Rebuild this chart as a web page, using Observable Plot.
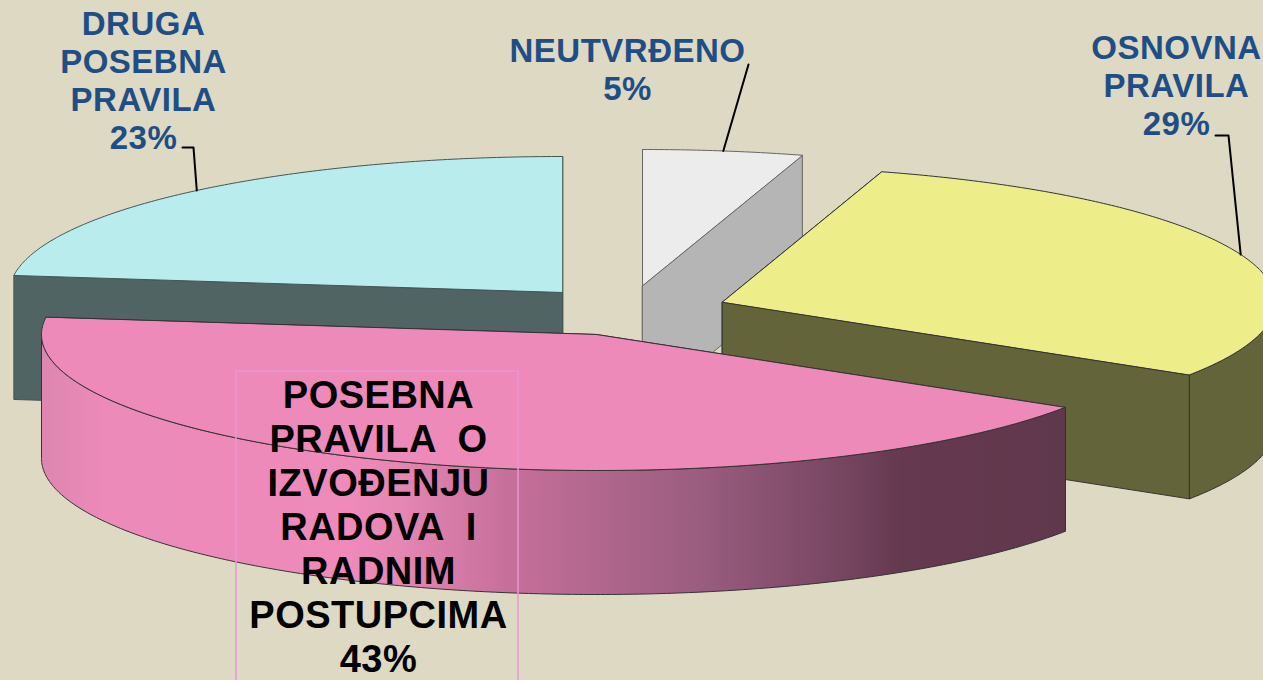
<!DOCTYPE html>
<html>
<head>
<meta charset="utf-8">
<script src="https://cdn.jsdelivr.net/npm/d3@7"></script>
<script src="https://cdn.jsdelivr.net/npm/@observablehq/plot@0.6"></script>
<style>
html,body{margin:0;padding:0;background:#ddd9c3;overflow:hidden}
svg{display:block}
.lbl text{letter-spacing:0.5px;white-space:pre}
</style>
</head>
<body>
<div id="chart"></div>
<script>
// Data (clockwise from 12 o'clock)
const names = ["NEUTVRĐENO", "OSNOVNA\nPRAVILA", "POSEBNA\nPRAVILA  O\nIZVOĐENJU\nRADOVA  I\nRADNIM\nPOSTUPCIMA", "DRUGA\nPOSEBNA\nPRAVILA"];
const shares = [4.65, 29.35, 43, 23];
const topColors = ["#ececec", "#eded8a", "#ee8aba", "#b9eded"];
const sideColors = ["#b5b5b5", "#64643a", "url(#pinkSide)", "#506464"];
const edgeColors = ["#666666", "#333333", "#333333", "#445555"];

// Pie layout in image space
const W = 1263, H = 680;
const radiusX = [555, 553, 555, 553], radiusY = 136, depth = 124;
const apexX = [642, 722, 596, 562];
const apexY = [285, 301.5, 334, 292];

const labelX = [627, 1176, 378, 143];
const labelY = [68, 84, 525, 79];
const labelSize = [33, 33, 38, 33];
const labelLeading = [38 / 33, 38 / 33, 44 / 38, 38 / 33];
const labelColor = ["#1f4e86", "#1f4e86", "#000000", "#1f4e86"];
const leaderFromX = [[748], [1215, 1228], [], [182, 193]];
const leaderFromY = [[64], [135, 135], [], [147, 147]];
const boxX = [236, 518], boxY = [371, 700];

// Derive wedges from shares
let acc = 0;
const slices = shares.map((v, i) => {
  const a0 = acc / 100 * 2 * Math.PI;
  acc += v;
  return {i, a0, a1: acc / 100 * 2 * Math.PI};
});
const pt = (s, a, dz = 0) => ({
  x: apexX[s.i] + radiusX[s.i] * Math.sin(a),
  y: apexY[s.i] - radiusY * Math.cos(a) + dz
});
const arc = (s, from, to, dz = 0) => {
  const n = Math.max(2, Math.ceil((to - from) / 0.01));
  return d3.range(n + 1).map(k => pt(s, from + (to - from) * k / n, dz));
};
const apex = (s, dz = 0) => ({x: apexX[s.i], y: apexY[s.i] + dz});

const drawOrder = [0, 3, 1, 2];
const marks = [];
marks.push(() => {
  const defs = d3.create("svg:defs");
  const g = defs.append("linearGradient").attr("id", "pinkSide").attr("x1", 0).attr("x2", 1).attr("y1", 0).attr("y2", 0);
  [[0, "#dd86af"], [0.06, "#ec8ab9"], [0.3, "#ef8aba"], [0.35, "#e586b3"], [0.45, "#c8709c"],
   [0.65, "#985c7e"], [0.79, "#74445f"], [0.84, "#65394f"], [1, "#60384d"]]
    .forEach(([o, c]) => g.append("stop").attr("offset", o).attr("stop-color", c));
  return defs.node();
});
const poly = (pts, fill, stroke) => Plot.line(pts, {x: "x", y: "y", fill, stroke, strokeWidth: 1, curve: "linear-closed"});

for (const i of drawOrder) {
  const s = slices[i];
  const side = sideColors[i], edge = edgeColors[i];
  const flat = i === 2 ? "#62384f" : side;
  // radial walls
  for (const a of [s.a0, s.a1]) {
    marks.push(poly([apex(s), pt(s, a), pt(s, a, depth), apex(s, depth)], flat, edge));
  }
  // outer wall: the part of the rim that faces the viewer
  const from = Math.max(s.a0, Math.PI / 2), to = Math.min(s.a1, 1.5 * Math.PI);
  if (to > from) {
    marks.push(poly([...arc(s, from, to), ...arc(s, from, to, depth).reverse()], side, edge));
  }
  // top face
  marks.push(poly([apex(s), ...arc(s, s.a0, s.a1)], topColors[i], edge));
}

// Text box around the big label
marks.push(Plot.rect([0], {x1: boxX[0], x2: boxX[1], y1: boxY[0], y2: boxY[1], fill: "none", stroke: "#e696d2", strokeWidth: 1.5}));

// Leader lines end at the mid-angle of each slice's rim
slices.forEach((s, i) => {
  if (!leaderFromX[i].length) return;
  const end = pt(s, (s.a0 + s.a1) / 2);
  const path = [...leaderFromX[i].map((x, k) => ({x, y: leaderFromY[i][k]})), end];
  marks.push(Plot.line(path, {x: "x", y: "y", stroke: "#000", strokeWidth: 2, curve: "linear"}));
});

// Labels
const fmt = d => `${Math.round(d)}%`;
slices.forEach((s, i) => {
  marks.push(Plot.text([0], {
    x: () => labelX[i], y: () => labelY[i],
    text: () => `${names[i]}\n${fmt(shares[i])}`,
    fill: labelColor[i], fontSize: labelSize[i], fontWeight: "bold",
    fontFamily: "Liberation Sans", lineHeight: labelLeading[i], lineAnchor: "middle", textAnchor: "middle",
    className: "lbl"
  }));
});

const chart = Plot.plot({
  width: W, height: H, margin: 0,
  x: {domain: [0, W], range: [0, W], axis: null},
  y: {domain: [0, H], range: [0, H], axis: null},
  style: {background: "#ddd9c3"},
  marks
});
document.getElementById("chart").append(chart);
</script>
</body>
</html>
